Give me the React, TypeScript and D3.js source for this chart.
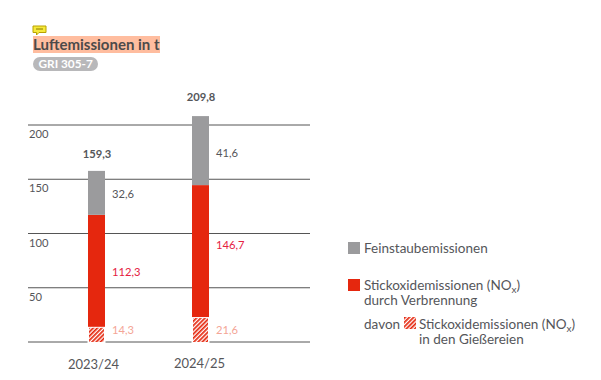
import React from "react";
import * as d3 from "d3";

const periods = ["2023/24", "2024/25"];
const ticks = [50, 100, 150, 200];
// Heights as drawn, read against the axis (the source drawing is not strictly to scale)
const drawnHatched = [14, 23];
const drawnRed = [103.2, 121.6];
const drawnGray = [40.5, 63.6];
// Printed labels
const labelTotal = ["159,3", "209,8"];
const labelGray = ["32,6", "41,6"];
const labelRed = ["112,3", "146,7"];
const labelHatched = ["14,3", "21,6"];

const FONT = "Lato, 'Open Sans', sans-serif";
const TEXT = "#55565a";
const RED = "#e5270e";

export default function App() {
  const y = d3.scaleLinear().domain([0, 200]).range([342, 125]);
  const x = d3.scaleBand().domain(periods).range([44.5, 252.5]).paddingInner(0).paddingOuter(0);
  const barW = 17;
  const stack = periods.map((p, i) => {
    const a = drawnHatched[i];
    const b = a + drawnRed[i];
    const c = b + drawnGray[i];
    return { p, i, cx: x(p)! + x.bandwidth() / 2, a, b, c };
  });
  return (
    <svg width={601} height={380} style={{ position: "absolute", left: 0, top: 0, fontFamily: FONT }}>
      <defs>
        <pattern id="hatch" width={3} height={3} patternUnits="userSpaceOnUse" patternTransform="rotate(45)">
          <rect width={3} height={3} fill="#fff" />
          <rect width={1.7} height={3} fill={RED} />
        </pattern>
      </defs>

      <g>
        <path d="M33 26h13v6.5h-7l-2.5 2.5v-2.5H33z" fill="#f6e93a" stroke="#b9a200" strokeWidth={1} />
        <path d="M36 29h7" stroke="#8a7a00" strokeWidth={1} />
        <rect x={33} y={36} width={127} height={17} fill="#ffbd9f" />
        <text x={33} y={49.5} fontSize={15} fontWeight={700} fill="#4c4a4a">Luftemissionen in t</text>
        <rect x={33} y={57} width={65} height={14} rx={7} fill="#b8b8ba" />
        <text x={38.5} y={68} fontSize={11.8} fontWeight={700} fill="#fff">GRI 305-7</text>
      </g>

      {ticks.map((t) => (
        <g key={t}>
          <line x1={28} x2={310} y1={y(t)} y2={y(t)} stroke="#555" strokeWidth={1} />
          <text x={29} y={y(t) + 13} fontSize={11.2} fill={TEXT}>{t}</text>
        </g>
      ))}
      <line x1={28} x2={310} y1={y(0)} y2={y(0)} stroke="#555" strokeWidth={1} />

      {stack.map((s) => (
        <g key={s.p}>
          <rect x={s.cx - barW / 2 - 0.5} y={y(s.a)} width={barW + 1} height={y(0) - y(s.a) + 1} fill="#fff" />
          <rect x={s.cx - barW / 2 + 1} y={y(s.a) + 1} width={barW - 2} height={y(0) - y(s.a) - 1} fill="url(#hatch)" />
          <rect x={s.cx - barW / 2} y={y(s.b)} width={barW} height={y(s.a) - y(s.b)} fill={RED} />
          <rect x={s.cx - barW / 2} y={y(s.c)} width={barW} height={y(s.b) - y(s.c)} fill="#9b9b9d" />
          <text x={s.cx + 0.5} y={y(s.c) - (s.i === 0 ? 13 : 15)} textAnchor="middle" fontSize={11.2} fontWeight={700} fill={TEXT}>{labelTotal[s.i]}</text>
          <text x={s.cx + 15.5} y={(y(s.c) + y(s.b)) / 2 + (s.i === 0 ? 5 : 6)} fontSize={11.2} fill={TEXT}>{labelGray[s.i]}</text>
          <text x={s.cx + 15.5} y={(y(s.b) + y(s.a)) / 2 + (s.i === 0 ? 5.5 : -2.5)} fontSize={11.2} fill="#e5213f">{labelRed[s.i]}</text>
          <text x={s.cx + 15.5} y={y(0) - 8} fontSize={11.2} fill="#f4a596">{labelHatched[s.i]}</text>
          <text x={s.cx + (s.i === 0 ? -3 : -1)} y={s.i === 0 ? 369 : 368} textAnchor="middle" fontSize={13} fill={TEXT}>{s.p}</text>
        </g>
      ))}

      <g fontSize={13.5} fill={TEXT}>
        <rect x={348} y={242} width={12} height={12} fill="#9b9b9d" />
        <text x={364} y={253}>Feinstaubemissionen</text>
        <rect x={348} y={279} width={12} height={12} fill={RED} />
        <text x={364} y={290}>Stickoxidemissionen (NO<tspan fontSize={10} dy={3}>x</tspan><tspan dy={-3}>)</tspan></text>
        <text x={364} y={305}>durch Verbrennung</text>
        <text x={364} y={329}>davon</text>
        <rect x={404} y={317} width={12} height={12} fill="url(#hatch)" />
        <text x={419} y={329}>Stickoxidemissionen (NO<tspan fontSize={10} dy={3}>x</tspan><tspan dy={-3}>)</tspan></text>
        <text x={419} y={344}>in den Gießereien</text>
      </g>
    </svg>
  );
}
